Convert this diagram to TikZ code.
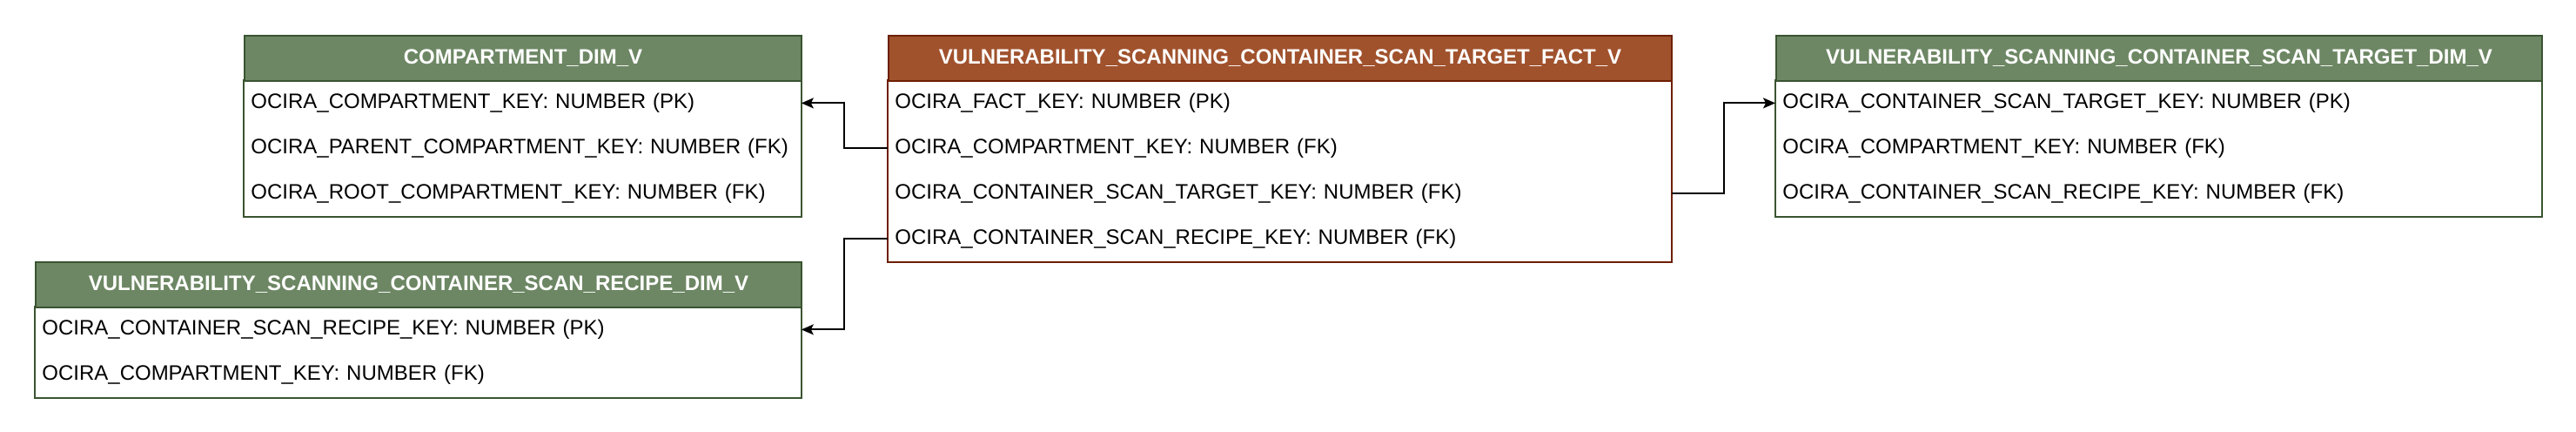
\documentclass[tikz,border=0pt]{standalone}
\usepackage{fontspec}
\setmainfont{Liberation Sans}
\usetikzlibrary{arrows.meta,fit}
\definecolor{gfill}{HTML}{6D8764}
\definecolor{gline}{HTML}{3A5431}
\definecolor{bfill}{HTML}{A0522D}
\definecolor{bline}{HTML}{6D1F00}
\tikzset{
  cell/.style={anchor=north west, minimum height=26pt, inner xsep=4pt, inner ysep=0pt,
    font=\fontsize{12}{14}\selectfont},
  hdr/.style={cell, draw=#1, line width=1pt, text=white,
    font=\bfseries\fontsize{12}{14}\selectfont, align=center},
  rowc/.style={cell, text width=#1-8pt, align=left},
  body/.style={draw=#1, line width=1pt, inner sep=0pt},
  conn/.style={draw=black, line width=1pt, -{Stealth[length=7pt,width=6pt,inset=1.5pt]}}
}
\begin{document}
\begin{tikzpicture}[x=1pt,y=-1pt]
\useasboundingbox (0,0) rectangle (1480,248);
% COMPARTMENT_DIM_V
\node[rowc=320pt] (c1) at (140,46) {OCIRA\_COMPARTMENT\_KEY: NUMBER (PK)};
\node[rowc=320pt] (c2) at (140,72) {OCIRA\_PARENT\_COMPARTMENT\_KEY: NUMBER (FK)};
\node[rowc=320pt] (c3) at (140,98) {OCIRA\_ROOT\_COMPARTMENT\_KEY: NUMBER (FK)};
\node[body=gline, fit=(c1)(c3)] (cbox) {};
\node[hdr=gline, fill=gfill, text width=312pt] (ch) at (140,20) {COMPARTMENT\_DIM\_V};
% RECIPE DIM
\node[rowc=440pt] (r1) at (20,176) {OCIRA\_CONTAINER\_SCAN\_RECIPE\_KEY: NUMBER (PK)};
\node[rowc=440pt] (r2) at (20,202) {OCIRA\_COMPARTMENT\_KEY: NUMBER (FK)};
\node[body=gline, fit=(r1)(r2)] (rbox) {};
\node[hdr=gline, fill=gfill, text width=432pt] (rh) at (20,150) {VULNERABILITY\_SCANNING\_CONTAINER\_SCAN\_RECIPE\_DIM\_V};
% FACT
\node[rowc=450pt] (f1) at (510,46) {OCIRA\_FACT\_KEY: NUMBER (PK)};
\node[rowc=450pt] (f2) at (510,72) {OCIRA\_COMPARTMENT\_KEY: NUMBER (FK)};
\node[rowc=450pt] (f3) at (510,98) {OCIRA\_CONTAINER\_SCAN\_TARGET\_KEY: NUMBER (FK)};
\node[rowc=450pt] (f4) at (510,124) {OCIRA\_CONTAINER\_SCAN\_RECIPE\_KEY: NUMBER (FK)};
\node[body=bline, fit=(f1)(f4)] (fbox) {};
\node[hdr=bline, fill=bfill, text width=442pt] (fh) at (510,20) {VULNERABILITY\_SCANNING\_CONTAINER\_SCAN\_TARGET\_FACT\_V};
% TARGET DIM
\node[rowc=440pt] (t1) at (1020,46) {OCIRA\_CONTAINER\_SCAN\_TARGET\_KEY: NUMBER (PK)};
\node[rowc=440pt] (t2) at (1020,72) {OCIRA\_COMPARTMENT\_KEY: NUMBER (FK)};
\node[rowc=440pt] (t3) at (1020,98) {OCIRA\_CONTAINER\_SCAN\_RECIPE\_KEY: NUMBER (FK)};
\node[body=gline, fit=(t1)(t3)] (tbox) {};
\node[hdr=gline, fill=gfill, text width=432pt] (th) at (1020,20) {VULNERABILITY\_SCANNING\_CONTAINER\_SCAN\_TARGET\_DIM\_V};
% connectors
\draw[conn] (f2.west) -- ++(-25,0) |- (c1.east);
\draw[conn] (f4.west) -- ++(-25,0) |- (r1.east);
\draw[conn] (f3.east) -- ++(30,0) |- (t1.west);
\end{tikzpicture}
\end{document}
